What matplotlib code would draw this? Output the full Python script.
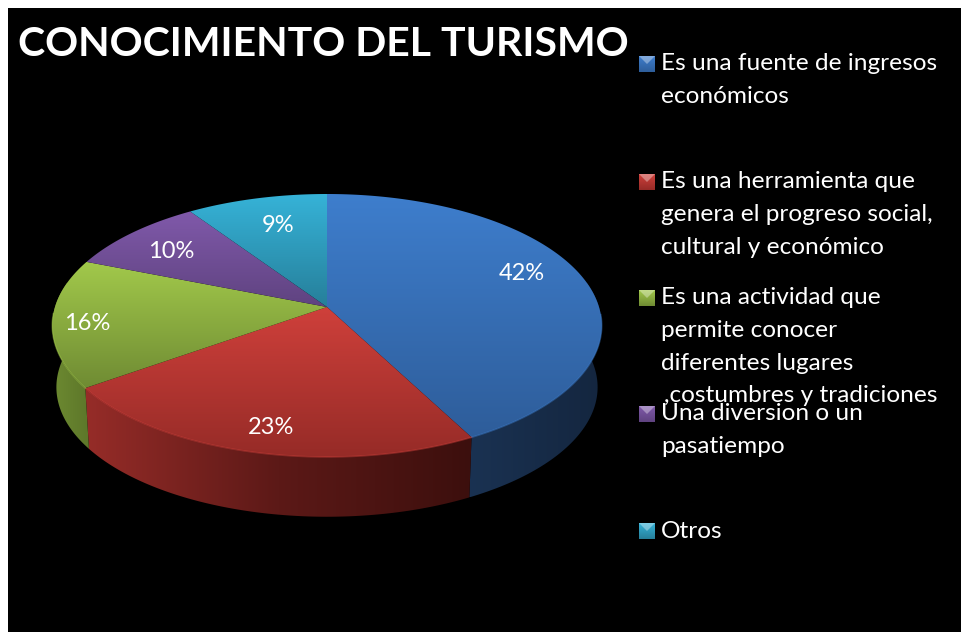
import numpy as np
from matplotlib import pyplot as plt
from matplotlib.colors import LinearSegmentedColormap
from matplotlib.patches import Polygon, Rectangle

plt.rcParams['font.family'] = ['Lato', 'DejaVu Sans']

title = 'CONOCIMIENTO DEL TURISMO'
# shares estimated from the slice edges, the labels show them rounded
values = [42.3, 22.9, 15.8, 9.51, 9.49]
labels = ['Es una fuente de ingresos\neconómicos',
          'Es una herramienta que\ngenera el progreso social,\ncultural y económico',
          'Es una actividad que\npermite conocer\ndiferentes lugares\n\u2009,costumbres y tradiciones',
          'Una diversion o un\npasatiempo',
          'Otros']
top_colors = [('#3e7ecd', '#2e5d9a'), ('#cf403b', '#962b27'), ('#a2c94b', '#6f8b33'),
              ('#8059aa', '#5f4380'), ('#36b3d8', '#267f9a')]
side_colors = [('#1a3252', '#14263f'), ('#962c28', '#5c1917', '#3c0f0d'), ('#6d8a31', '#5d772a'),
               ('#4d3668', '#4d3668'), ('#1f6a80', '#1f6a80')]
label_pos = [(522, 274), (271, 428), (87, 324), (171, 252), (278, 226)]
legend_y = [64, 182, 298, 414, 531]

# pie geometry in pixels, the disc is seen in perspective
cx, cy = 327, 307
a, b, k = 272, 128.9, 0.1407
depth = 62
shrink = 0.985


def project(t):
    x, y = np.sin(t), np.cos(t)
    d = 1 + k * y
    return cx + a * x / d, cy - b * y / d


def gradient(ax, poly, colors, horizontal=False):
    # fill a polygon with a gradient, image clipped to the shape
    cmap = LinearSegmentedColormap.from_list('g', colors)
    xy = poly.get_xy()
    x0, x1, y0, y1 = xy[:, 0].min(), xy[:, 0].max(), xy[:, 1].min(), xy[:, 1].max()
    grad = np.linspace(0, 1, 256)
    grad = grad.reshape(1, -1) if horizontal else grad.reshape(-1, 1)
    im = ax.imshow(grad, cmap=cmap, extent=(x0, x1, y1, y0), aspect='auto',
                   interpolation='bilinear', zorder=poly.get_zorder())
    poly.set(facecolor='none', edgecolor='none')
    ax.add_patch(poly)
    im.set_clip_path(poly)


fig = plt.figure(figsize=(9.62, 6.32), dpi=100, facecolor='white')
ax = fig.add_axes([0, 0, 1, 1])
ax.add_patch(Rectangle((8, 8), 954, 624, facecolor='black', edgecolor='none', zorder=0))

edges = np.cumsum([0] + values) / sum(values) * 2 * np.pi
slices = list(zip(edges[:-1], edges[1:]))

# side walls first, the top faces hide the back part
for (t0, t1), cols in zip(slices, side_colors):
    t = np.linspace(t0, t1, 150)
    x, y = project(t)
    xb = cx + (x - cx) * shrink
    yb = cy + (y - cy) * shrink + depth
    front = np.cos(t) < 0.2
    if front.sum() < 2:
        continue
    pts = np.r_[np.c_[x[front], y[front]], np.c_[xb[front], yb[front]][::-1]]
    gradient(ax, Polygon(pts, closed=True, zorder=2), cols, horizontal=True)

for (t0, t1), cols in zip(slices, top_colors):
    t = np.linspace(t0, t1, 200)
    x, y = project(t)
    pts = np.r_[[[cx, cy]], np.c_[x, y]]
    gradient(ax, Polygon(pts, closed=True, zorder=3), cols)
    # light rim along the front edge
    front = np.cos(t) < -0.05
    if front.sum() > 1:
        ax.plot(x[front], y[front], color=cols[0], lw=1.1, alpha=0.45, zorder=4)

for val, (lx, ly) in zip(values, label_pos):
    ax.text(lx, ly, '{:.0f}%'.format(val), color='white', fontsize=17, ha='center', va='center', zorder=5)

ax.text(18, 45, title, color='white', fontsize=29.5, fontweight='bold', ha='left', va='center', zorder=5)

# legend
for lab, ly, cols in zip(labels, legend_y, top_colors):
    box = Polygon([(639, ly - 8), (655, ly - 8), (655, ly + 8), (639, ly + 8)], closed=True, zorder=3)
    gradient(ax, box, (cols[0], cols[1]))
    ax.add_patch(Polygon([(639, ly - 8), (655, ly - 8), (647, ly)], closed=True,
                         facecolor='white', alpha=0.35, edgecolor='none', zorder=4))
    for i, line in enumerate(lab.split('\n')):
        ax.text(661, ly + i * 32.5, line, color='white', fontsize=17.6, ha='left', va='center', zorder=5)

ax.set_xlim(0, 962)
ax.set_ylim(632, 0)
ax.axis('off')
fig.savefig('out.png', dpi=100, facecolor='white')
